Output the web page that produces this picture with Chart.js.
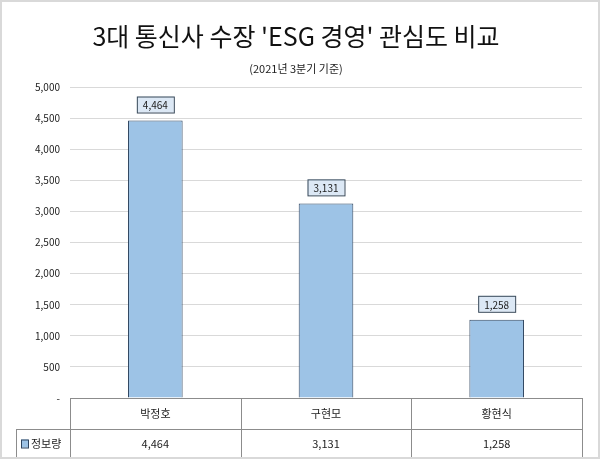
<!DOCTYPE html>
<html><head><meta charset="utf-8">
<script src="https://cdn.jsdelivr.net/npm/chart.js@4"></script>
<style>body{margin:0;background:#fff}#wrap{width:600px;height:459px;box-sizing:border-box;border:2px solid #d9d9d9}</style>
</head><body><div id="wrap"><canvas id="c" width="596" height="455"></canvas></div>
<script>
const categories = ['박정호', '구현모', '황현식'];
const values = [4464, 3131, 1258];
const seriesName = '정보량';
const FONT = "'Noto Sans CJK KR', 'Noto Sans', sans-serif";
const fmt = v => v.toLocaleString('en-US');

// ─── 값 라벨 + 데이터 표 ─────────────────────────────────────────────
const extras = {
  id: 'extras',
  afterDatasetsDraw(chart) {
    const ctx = chart.ctx, x = chart.scales.x, area = chart.chartArea;
    const meta = chart.getDatasetMeta(0);
    ctx.save();
    ctx.font = '10px ' + FONT;
    ctx.textAlign = 'center'; ctx.textBaseline = 'middle';
    meta.data.forEach((bar, i) => {
      const t = fmt(values[i]), w = ctx.measureText(t).width + 12, h = 16;
      const cy = bar.y - 16;
      ctx.fillStyle = '#dce8f5'; ctx.strokeStyle = '#3a4a5a'; ctx.lineWidth = 1;
      ctx.fillRect(bar.x - w / 2, cy - h / 2, w, h);
      ctx.strokeRect(bar.x - w / 2 + .5, cy - h / 2 + .5, w, h);
      ctx.fillStyle = '#222'; ctx.fillText(t, bar.x, cy + 1);
    });
    // 표
    const top = area.bottom, r1 = top + 31, r2 = r1 + 29, left0 = 14;
    const step = (area.right - area.left) / categories.length;
    ctx.strokeStyle = '#8c8c8c'; ctx.lineWidth = 1;
    ctx.beginPath();
    ctx.moveTo(area.left, top + .5); ctx.lineTo(area.right, top + .5);
    ctx.moveTo(left0, r1 + .5); ctx.lineTo(area.right, r1 + .5);
    ctx.moveTo(left0, r2 + .5); ctx.lineTo(area.right, r2 + .5);
    ctx.moveTo(left0 + .5, r1); ctx.lineTo(left0 + .5, r2);
    for (let i = 0; i <= categories.length; i++) {
      const lx = Math.round(area.left + step * i) + .5;
      ctx.moveTo(lx, top); ctx.lineTo(lx, r2);
    }
    ctx.stroke();
    ctx.font = '11px ' + FONT; ctx.fillStyle = '#222';
    categories.forEach((c, i) => {
      const cx = x.getPixelForValue(i);
      ctx.fillText(c, cx, (top + r1) / 2);
      ctx.fillText(fmt(values[i]), cx, (r1 + r2) / 2);
    });
    ctx.fillStyle = '#9dc3e6'; ctx.strokeStyle = '#2f4560';
    ctx.fillRect(left0 + 5, (r1 + r2) / 2 - 4, 7, 8);
    ctx.strokeRect(left0 + 5.5, (r1 + r2) / 2 - 3.5, 7, 8);
    ctx.fillStyle = '#222'; ctx.textAlign = 'left';
    ctx.fillText(seriesName, left0 + 15, (r1 + r2) / 2);
    ctx.restore();
  }
};

new Chart(document.getElementById('c'), {
  type: 'bar',
  data: { labels: categories, datasets: [{
    label: seriesName, data: values,
    backgroundColor: '#9dc3e6', borderColor: '#2f4560', borderWidth: 1,
    categoryPercentage: 1, barPercentage: 0.32,
  }]},
  options: {
    responsive: false, animation: false,
    layout: { padding: { left: 8, right: 16, bottom: 51, top: 0 } },
    plugins: {
      legend: { display: false }, tooltip: { enabled: false },
      title: { display: true, text: "3대 통신사 수장 'ESG 경영' 관심도 비교",
        font: { family: FONT, size: 25, weight: 'normal' }, color: '#111', padding: { top: 19, bottom: 11 } },
      subtitle: { display: true, text: '(2021년 3분기 기준)',
        font: { family: FONT, size: 11 }, color: '#222', padding: { bottom: 12 } },
    },
    scales: {
      x: { grid: { display: false }, border: { display: false }, ticks: { display: false } },
      y: { min: 0, max: 5000,
        afterFit: s => { s.width = 60; },
        border: { display: false },
        grid: { color: '#d9d9d9', drawTicks: false },
        ticks: { stepSize: 500, padding: 10, color: '#222', font: { family: FONT, size: 10 },
          callback: v => v === 0 ? '-' : fmt(v) } },
    },
  },
  plugins: [extras],
});
</script></body></html>
